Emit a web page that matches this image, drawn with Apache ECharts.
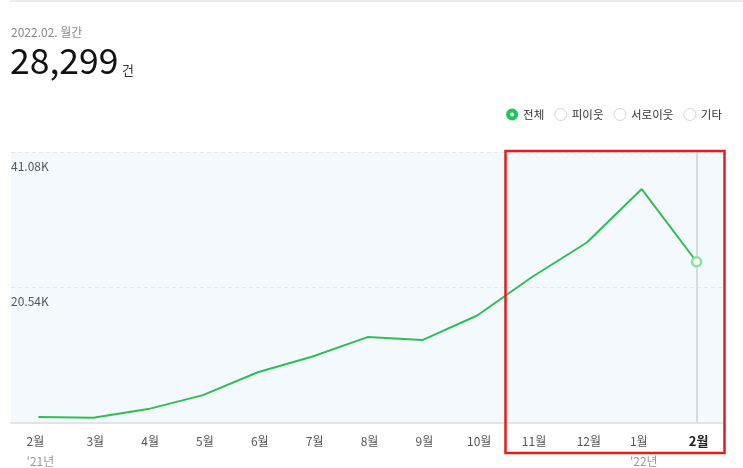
<!DOCTYPE html>
<html>
<head>
<meta charset="utf-8">
<script src="https://cdn.jsdelivr.net/npm/echarts@6/dist/echarts.min.js"></script>
<style>
html,body{margin:0;padding:0;background:#fff;}
#c{width:743px;height:468px;}
</style>
</head>
<body>
<div id="c"></div>
<script>
const months = ['2월','3월','4월','5월','6월','7월','8월','9월','10월','11월','12월','1월','2월'];
const years = ["'21년",'','','','','','','','','','',"'22년",''];
const totalValues = [820, 710, 2035, 4160, 7630, 10030, 12970, 12520, 16250, 22100, 27340, 35450, 24410];
const legendNames = ['전체','피이웃','서로이웃','기타'];
const yTicks = [0, 20540, 41080];
const periodLabel = '2022.02. 월간';
const headlineCount = '28,299';
const headlineUnit = '건';

const FONT = "'Noto Sans CJK KR', 'Noto Sans', sans-serif";
const lastIdx = totalValues.length - 1;

const selectedIcon = 'path://M0,6A6,6 0 1,0 12,6A6,6 0 1,0 0,6Z M4,6A2,2 0 1,1 8,6A2,2 0 1,1 4,6Z';

const chart = echarts.init(document.getElementById('c'));
chart.setOption({
  animation: false,
  textStyle: { fontFamily: FONT },
  grid: {
    left: 11, right: 19, top: 152, bottom: 45.5,
    show: true, backgroundColor: '#f4f9fd', borderWidth: 0
  },
  legend: {
    selectedMode: false,
    right: 16, top: 103,
    itemWidth: 12, itemHeight: 12, itemGap: 10,
    textStyle: { fontSize: 11.5, color: '#333', fontFamily: FONT },
    data: legendNames.map((n, i) => i === 0
      ? { name: n, icon: selectedIcon, itemStyle: { color: '#1ec55a', borderWidth: 0 } }
      : { name: n, icon: 'circle', itemStyle: { color: '#ffffff', borderColor: '#d2d2d2', borderWidth: 1 } })
  },
  xAxis: {
    type: 'category',
    data: months,
    boundaryGap: true,
    axisTick: { show: false },
    axisLine: { show: true, lineStyle: { color: '#e1e5e9', width: 2 } },
    axisLabel: {
      margin: 9,
      interval: 0,
      padding: [0, 0, 0, 4],
      formatter: function (v, i) {
        const m = i === lastIdx ? '{b|' + v + '}' : '{m|' + v + '}';
        return years[i] ? m + '\n{y|' + years[i] + '}' : m;
      },
      rich: {
        m: { fontSize: 12, color: '#555', lineHeight: 20, align: 'left', fontFamily: FONT },
        b: { fontSize: 13, color: '#222', fontWeight: 'bold', lineHeight: 20, align: 'left', fontFamily: FONT },
        y: { fontSize: 12, color: '#9a9a9a', lineHeight: 20, align: 'left', fontFamily: FONT }
      }
    }
  },
  yAxis: {
    type: 'value',
    min: yTicks[0], max: yTicks[2], interval: yTicks[1],
    axisLine: { show: false },
    axisTick: { show: false },
    splitLine: { show: true, lineStyle: { color: '#e2e7ec', type: [4, 3], width: 1 } },
    axisLabel: {
      inside: true, margin: 0, align: 'left', verticalAlign: 'top',
      padding: [8, 0, 0, 0],
      showMinLabel: false,
      fontSize: 12, color: '#555',
      formatter: v => v === 0 ? '' : (v / 1000).toFixed(2) + 'K'
    }
  },
  series: [
    {
      name: legendNames[0],
      type: 'line',
      data: totalValues,
      lineStyle: { color: '#2dbf55', width: 2 },
      itemStyle: { color: '#ffffff', borderColor: '#8adfa3', borderWidth: 2.5 },
      symbol: (v, p) => p.dataIndex === lastIdx ? 'circle' : 'none',
      symbolSize: 9,
      showAllSymbol: true,
      z: 5,
      markLine: {
        silent: true, symbol: 'none', label: { show: false },
        lineStyle: { color: '#d6dbe0', width: 2, type: 'solid' },
        data: [{ xAxis: lastIdx }]
      }
    },
    { name: legendNames[1], type: 'line', data: [] },
    { name: legendNames[2], type: 'line', data: [] },
    { name: legendNames[3], type: 'line', data: [] }
  ],
  graphic: [
    { type: 'line', shape: { x1: 10, y1: 1, x2: 743, y2: 1 }, style: { stroke: '#e6e6e6', lineWidth: 1.5 } },
    { type: 'text', x: 11, y: 32, style: { text: periodLabel, fontSize: 12, fill: '#8a8a8a', fontFamily: FONT, verticalAlign: 'middle' } },
    { type: 'text', x: 10, y: 61, style: { text: headlineCount, fontSize: 35.5, fill: '#111', fontFamily: FONT, verticalAlign: 'middle' } },
    { type: 'text', x: 122, y: 70, style: { text: headlineUnit, fontSize: 13, fill: '#333', fontFamily: FONT, verticalAlign: 'middle' } },
    { type: 'rect', z: 100, shape: { x: 505.5, y: 151, width: 219, height: 302 }, style: { fill: 'none', stroke: '#e21d1d', lineWidth: 2.5 } }
  ]
});
</script>
</body>
</html>
